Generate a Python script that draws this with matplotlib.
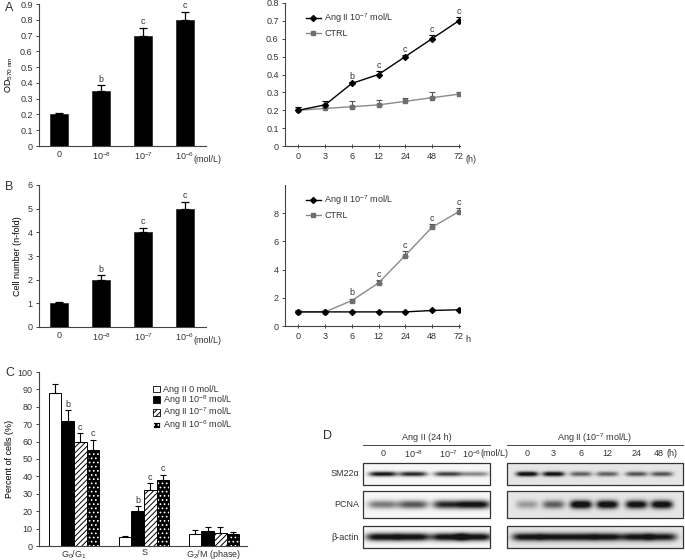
import matplotlib
matplotlib.use("Agg")
import matplotlib.pyplot as plt
from matplotlib.patches import Rectangle, Patch
from matplotlib.lines import Line2D
import numpy as np

plt.rcParams["font.family"] = ["Liberation Sans", "DejaVu Sans"]
plt.rcParams["mathtext.default"] = "regular"
plt.rcParams["font.size"] = 6.5
plt.rcParams["hatch.linewidth"] = 0.7
plt.rcParams["text.color"] = "#333333"
plt.rcParams["xtick.color"] = "#444444"
plt.rcParams["ytick.color"] = "#444444"
plt.rcParams["xtick.labelcolor"] = "#333333"
plt.rcParams["ytick.labelcolor"] = "#333333"

W, H = 685, 560

# ---- data ----
dose_labels = ["0", "10$^{-8}$", "10$^{-7}$", "10$^{-6}$"]
od_mean = [0.20, 0.35, 0.70, 0.80]
od_err = [0.01, 0.035, 0.05, 0.05]
od_sig = ["", "b", "c", "c"]

cell_mean = [1.0, 2.0, 4.0, 5.0]
cell_err = [0.07, 0.2, 0.2, 0.3]
cell_sig = ["", "b", "c", "c"]

hours = ["0", "3", "6", "12", "24", "48", "72"]
od_ang = [0.20, 0.23, 0.35, 0.40, 0.50, 0.60, 0.70]
od_ang_err = [0.02, 0.02, 0.01, 0.02, 0.01, 0.02, 0.02]
od_ctrl = [0.20, 0.21, 0.22, 0.23, 0.25, 0.27, 0.29]
od_ctrl_err = [0.02, 0.01, 0.03, 0.03, 0.02, 0.03, 0.01]
od_time_sig = ["", "", "b", "c", "c", "c", "c"]

cell_ang = [1.0, 1.0, 1.0, 1.0, 1.0, 1.1, 1.15]
cell_ang_err = [0.05, 0.05, 0.05, 0.05, 0.05, 0.05, 0.05]
cell_ctrl = [1.0, 1.0, 1.8, 3.05, 5.0, 7.0, 8.1]
cell_ctrl_err = [0.15, 0.1, 0.15, 0.2, 0.3, 0.25, 0.25]
cell_time_sig = ["", "", "b", "c", "c", "c", "c"]

phases = ["G$_0$/G$_1$", "S", "G$_2$/M (phase)"]
cycle_labels = ["Ang II 0 mol/L", "Ang II 10$^{-8}$ mol/L",
                "Ang II 10$^{-7}$ mol/L", "Ang II 10$^{-6}$ mol/L"]
cycle_mean = [[88, 5, 7], [72, 20, 8.5], [60, 32, 7.5], [55, 38, 7]]
cycle_err = [[5, 1, 2], [6, 3, 2.5], [5, 4, 3.5], [6, 3, 0.8]]
cycle_sig = [["", "", ""], ["b", "b", ""], ["c", "c", ""], ["c", "c", ""]]

blot_dose_cols = ["0", "10$^{-8}$", "10$^{-7}$", "10$^{-6}$"]
blot_time_cols = ["0", "3", "6", "12", "24", "48"]
sm22_dose = [0.95, 0.85, 0.75, 0.45]
pcna_dose = [0.5, 0.65, 0.85, 1.0]
actin_dose = [1.0, 1.0, 1.0, 1.0]
sm22_time = [1.0, 0.95, 0.55, 0.55, 0.6, 0.6]
pcna_time = [0.3, 0.55, 1.05, 1.0, 0.95, 1.0]
actin_time = [0.9, 0.9, 0.9, 0.9, 0.9, 0.85]

# lane centres as fractions of each blot box (layout)
dose_lanes = [0.157, 0.394, 0.67, 0.882]
time_lanes = [0.114, 0.264, 0.42, 0.57, 0.736, 0.88]


def px_axes(fig, x0, y0, x1, y1):
    return fig.add_axes([x0 / W, 1 - y1 / H, (x1 - x0) / W, (y1 - y0) / H])


def style(ax):
    for s in ["top", "right"]:
        ax.spines[s].set_visible(False)
    for s in ["left", "bottom"]:
        ax.spines[s].set_color("#444444")
        ax.spines[s].set_linewidth(0.8)
    ax.tick_params(axis="y", length=2.5, width=0.7, pad=2)
    ax.tick_params(axis="x", length=0, pad=3)


def bar_panel(ax, means, errs, sigs, ymax, yticks, ylabel, fmt):
    x = np.arange(len(means))
    ax.bar(x, means, width=0.43, color="black", edgecolor="#222222", lw=0.5)
    ax.errorbar(x, means, yerr=[[0] * len(errs), errs], fmt="none",
                ecolor="black", elinewidth=0.9, capsize=3, capthick=0.9)
    for i, (m, e, s) in enumerate(zip(means, errs, sigs)):
        if s:
            ax.text(i, m + e + ymax * 0.01, s, ha="center", va="bottom", fontsize=6.5)
    ax.set_xlim(-0.48, 3.5)
    ax.set_ylim(0, ymax)
    ax.set_yticks(yticks)
    ax.set_yticklabels([fmt(v) for v in yticks])
    ax.set_xticks(x)
    ax.set_xticklabels(dose_labels)
    ax.text(3.2, -0.065, "(mol/L)", transform=ax.get_xaxis_transform(),
            ha="left", va="top", fontsize=6.5)
    ax.set_ylabel(ylabel, labelpad=4)
    style(ax)


def line_panel(ax, ang, ang_err, ctrl, ctrl_err, sigs, sig_on_ctrl, ymax, yticks, fmt, unit):
    x = np.arange(len(hours))
    ax.plot(x, ctrl, color="#8a8a8a", lw=1.0, marker="s", ms=3.5,
            mfc="#6e6e6e", mec="#6e6e6e", zorder=3)
    ax.errorbar(x, ctrl, yerr=[[0] * len(x), ctrl_err], fmt="none",
                ecolor="#555555", elinewidth=0.8, capsize=2.5, capthick=0.8)
    ax.plot(x, ang, color="black", lw=1.0, marker="D", ms=3, mfc="black",
            mec="black", zorder=4)
    ax.errorbar(x, ang, yerr=[[0] * len(x), ang_err], fmt="none",
                ecolor="black", elinewidth=0.8, capsize=2.5, capthick=0.8)
    base = ctrl if sig_on_ctrl else ang
    base_err = ctrl_err if sig_on_ctrl else ang_err
    for i, s in enumerate(sigs):
        if s:
            ax.text(i, base[i] + base_err[i] + ymax * 0.008, s, ha="center",
                    va="bottom", fontsize=6.5)
    ax.set_xlim(-0.5, 6.05)
    ax.set_ylim(0, ymax)
    ax.set_yticks(yticks)
    ax.set_yticklabels([fmt(v) for v in yticks])
    ax.set_xticks(x)
    ax.set_xticklabels(hours)
    style(ax)
    ax.tick_params(axis="x", length=3, width=0.7, direction="inout", pad=3)
    ax.text(6.25, -0.065, unit, transform=ax.get_xaxis_transform(),
            ha="left", va="top", fontsize=6.5)
    handles = [Line2D([], [], color="black", marker="D", ms=3, lw=1),
               Line2D([], [], color="#8a8a8a", marker="s", ms=3.5,
                      mfc="#6e6e6e", mec="#6e6e6e", lw=1)]
    ax.legend(handles, ["Ang II 10$^{-7}$ mol/L", "CTRL"], loc="upper left",
              bbox_to_anchor=(0.10, 0.965), frameon=False, handlelength=1.6,
              handletextpad=0.4, labelspacing=0.45, fontsize=6.5, borderaxespad=0)


fig = plt.figure(figsize=(W / 100, H / 100), dpi=100)

# ---- A ----
axA1 = px_axes(fig, 39, 4, 206, 146)
bar_panel(axA1, od_mean, od_err, od_sig, 0.9, np.arange(0, 0.91, 0.1),
          "OD$_{570\\ nm}$", lambda v: "0" if v == 0 else f"{v:.1f}")
axA2 = px_axes(fig, 285, 3, 460, 146)
line_panel(axA2, od_ang, od_ang_err, od_ctrl, od_ctrl_err, od_time_sig, False,
           0.8, np.arange(0, 0.81, 0.1), lambda v: "0" if v == 0 else f"{v:.1f}", "(h)")

# ---- B ----
axB1 = px_axes(fig, 39, 185, 206, 327)
bar_panel(axB1, cell_mean, cell_err, cell_sig, 6, np.arange(0, 7, 1),
          "Cell number (n-fold)", lambda v: f"{v:.0f}")
axB2 = px_axes(fig, 285, 185, 460, 326)
line_panel(axB2, cell_ang, cell_ang_err, cell_ctrl, cell_ctrl_err, cell_time_sig, True,
           10, np.arange(0, 9, 2), lambda v: f"{v:.0f}", "h")

# ---- C ----
axC = px_axes(fig, 39, 372, 247, 546)
gx = np.arange(len(phases))
bw = 0.18
for k in range(4):
    xs = gx + (k - 1.5) * bw
    if k == 0:
        axC.bar(xs, cycle_mean[k], width=bw, color="white", edgecolor="black", lw=0.7)
    elif k == 1:
        axC.bar(xs, cycle_mean[k], width=bw, color="black", edgecolor="black", lw=0.7)
    elif k == 2:
        axC.bar(xs, cycle_mean[k], width=bw, color="white", edgecolor="black", lw=0.7,
                hatch="//////")
    else:
        axC.bar(xs, cycle_mean[k], width=bw, color="black", edgecolor="white", lw=0,
                hatch="....")
        axC.bar(xs, cycle_mean[k], width=bw, fill=False, edgecolor="black", lw=0.7)
    axC.errorbar(xs, cycle_mean[k], yerr=[[0] * 3, cycle_err[k]], fmt="none",
                 ecolor="black", elinewidth=0.8, capsize=2.5, capthick=0.8)
    for j in range(3):
        if cycle_sig[k][j]:
            axC.text(xs[j], cycle_mean[k][j] + cycle_err[k][j] + 0.8, cycle_sig[k][j],
                     ha="center", va="bottom", fontsize=6.5)
axC.set_xlim(-0.5, 2.47)
axC.set_ylim(0, 100)
axC.set_yticks(np.arange(0, 101, 10))
axC.set_xticks(gx)
axC.set_xticklabels(phases)
axC.set_ylabel("Percent of cells (%)", labelpad=3)
style(axC)
axC.tick_params(axis="x", pad=1.5)
c_handles = [Patch(facecolor="white", edgecolor="black", lw=0.6),
             Patch(facecolor="black", edgecolor="black", lw=0.6),
             Patch(facecolor="white", edgecolor="black", lw=0.6, hatch="//////"),
             Patch(facecolor="black", edgecolor="white", lw=0.6, hatch="....")]
axC.legend(c_handles, cycle_labels, loc="upper left", bbox_to_anchor=(0.53, 0.945),
           frameon=False, handlelength=0.75, handleheight=0.75, handletextpad=0.4,
           labelspacing=-0.12, fontsize=6.5, borderaxespad=0)

# ---- D: western blots ----
axD = px_axes(fig, 300, 420, 685, 560)
axD.set_xlim(300, 685)
axD.set_ylim(560, 420)
axD.axis("off")


def draw_blot(ax, x0, x1, y0, y1, values, lanes, band_w, band_h, bg, lw=0.9):
    nx, ny = int((x1 - x0) * 4), int((y1 - y0) * 4)
    X, Y = np.meshgrid(np.linspace(x0, x1, nx), np.linspace(y0, y1, ny))
    yc = (y0 + y1) / 2
    dark = np.zeros_like(X)
    for f, v in zip(lanes, values):
        xc = x0 + (x1 - x0) * f
        dark += v * np.exp(-np.abs((X - xc) / band_w) ** 4 - ((Y - yc) / band_h) ** 2)
    img = np.clip(bg - dark, 0.08, 1)
    ax.imshow(img, cmap="gray", vmin=0, vmax=1, extent=(x0, x1, y1, y0),
              aspect="auto", interpolation="bilinear", zorder=1)
    ax.add_patch(Rectangle((x0, y0), x1 - x0, y1 - y0, fill=False,
                           ec="#333333", lw=lw, zorder=2))


Lx0, Lx1 = 363, 490
Rx0, Rx1 = 507, 683
rows = [(463, 485, "SM22\u03b1", sm22_dose, sm22_time, 2.4, 14, 11),
        (491, 518, "PCNA", pcna_dose, pcna_time, 4.2, 15, 11),
        (526, 548, "\u03b2-actin", actin_dose, actin_time, 4.0, 17, 15)]
for y0, y1, name, dvals, tvals, bh, lwid, rwid in rows:
    draw_blot(axD, Lx0, Lx1, y0, y1, dvals, dose_lanes, lwid, bh, 0.97)
    draw_blot(axD, Rx0, Rx1, y0, y1, tvals, time_lanes, rwid, bh, 0.9)
    axD.text(359, (y0 + y1) / 2, name, ha="right", va="center", fontsize=6.5)

axD.text(328, 436, "D", ha="center", va="center", fontsize=9)
axD.text((Lx0 + Lx1) / 2, 438, "Ang II (24 h)", ha="center", va="center", fontsize=6.5)
axD.text((Rx0 + Rx1) / 2, 438, "Ang II (10$^{-7}$ mol/L)", ha="center", va="center", fontsize=6.5)
axD.plot([Lx0, Lx1], [445, 445], color="#444444", lw=0.7)
axD.plot([Rx0, Rx1], [445, 445], color="#444444", lw=0.7)
for f, c in zip(dose_lanes, blot_dose_cols):
    axD.text(Lx0 + (Lx1 - Lx0) * f - (3 if c == blot_dose_cols[-1] else 0), 454, c,
             ha="center", va="center", fontsize=6.5)
axD.text(Lx0 + (Lx1 - Lx0) * dose_lanes[-1] + 5, 454, "(mol/L)", ha="left",
         va="center", fontsize=6.5)
for f, c in zip(time_lanes, blot_time_cols):
    axD.text(Rx0 + (Rx1 - Rx0) * f - (3 if c == blot_time_cols[-1] else 0), 454, c,
             ha="center", va="center", fontsize=6.5)
axD.text(Rx0 + (Rx1 - Rx0) * time_lanes[-1] + 5, 454, "(h)", ha="left",
         va="center", fontsize=6.5)

# panel letters
fig.text(5 / W, 1 - 8 / H, "A", fontsize=9, va="center")
fig.text(5 / W, 1 - 187 / H, "B", fontsize=9, va="center")
fig.text(5 / W, 1 - 373 / H, "C", fontsize=9, va="center")

fig.savefig("out.png", dpi=100)
